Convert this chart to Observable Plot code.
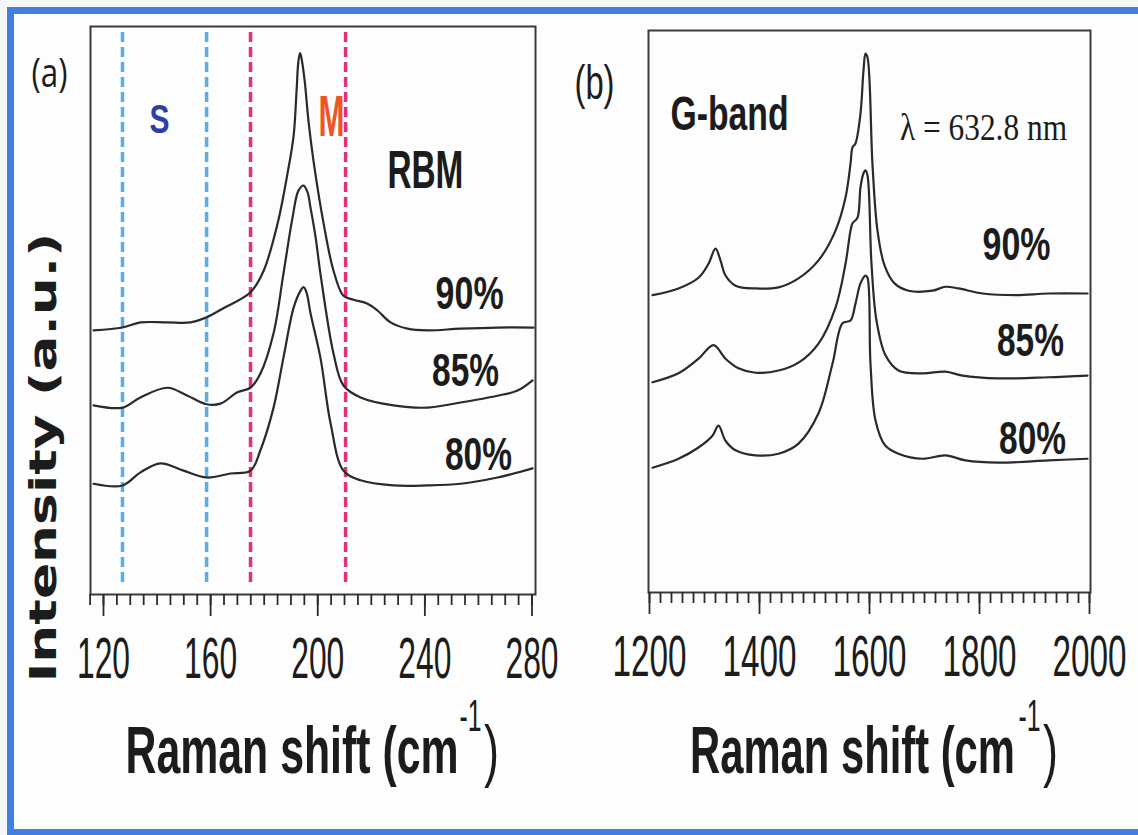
<!DOCTYPE html>
<html>
<head>
<meta charset="utf-8">
<script src="https://cdn.jsdelivr.net/npm/d3@7"></script>
<script src="https://cdn.jsdelivr.net/npm/@observablehq/plot@0.6"></script>
<style>
  html, body { margin: 0; padding: 0; background: #f4f6f8; }
  #wrap { position: relative; width: 1138px; height: 835px; overflow: hidden; background: #f4f6f8; }
  #border { position: absolute; left: 7px; top: 7px; width: 1160px; height: 829px; box-sizing: border-box;
            border: 7px solid #3f80e0; background: #fdfdfd; }
  #pa { position: absolute; left: 0; top: 0; }
  #pb { position: absolute; left: 570px; top: 0; }
</style>
</head>
<body>
<div id="wrap">
  <div id="border"></div>
  <div id="pa"></div>
  <div id="pb"></div>
</div>
<script>
// ---------- Panel (a): RBM region ----------
const rbmX90 = [116.3,127.1,133.8,143.9,152.5,158.5,164.8,174.9,179.8,185.0,188.7,191.0,192.1,192.8,193.4,193.9,195.1,196.6,198.4,202.2,205.9,209.6,213.4,218.6,222.3,227.2,233.5,241.0,253.3,267.1,280.6];
const rbmY90 = [46.5,47.0,47.9,47.9,47.9,48.8,50.4,53.2,57.0,65.3,74.1,80.8,88.7,94.0,95.3,94.5,90.5,83.1,76.4,65.3,57.0,52.6,51.9,51.2,50.0,47.9,46.8,46.5,46.8,47.0,47.0];
const rbmX85 = [116.3,127.1,133.8,143.9,151.4,158.5,163.7,170.0,174.9,178.6,183.5,187.2,190.6,192.8,194.7,196.2,197.3,199.2,201.0,205.9,209.6,216.0,228.3,241.0,253.3,267.1,274.6,280.2];
const rbmY85 = [33.3,32.9,34.7,36.4,35.0,33.5,33.6,35.6,36.4,38.9,46.0,56.5,66.4,71.1,72.0,70.8,68.1,62.9,56.5,42.4,36.8,34.7,33.3,32.9,33.8,35.0,35.9,37.7];
const rbmX80 = [116.3,127.1,133.8,141.3,149.9,158.5,167.4,174.9,178.6,183.5,187.2,191.0,193.6,194.7,195.8,197.3,201.0,204.8,209.6,216.0,228.3,241.0,253.3,267.1,280.2];
const rbmY80 = [19.5,19.2,21.5,23.1,21.8,20.6,21.3,21.8,25.4,32.9,41.7,50.5,53.5,54.1,53.2,49.5,41.7,30.1,21.8,20.1,19.2,19.2,19.5,20.6,22.2];
const sLines = [127.1, 158.5];   // semiconducting region bounds
const mLines = [174.9, 210.4];   // metallic region bounds
const ticksA = [120, 160, 200, 240, 280];

// ---------- Panel (b): G-band region ----------
const gX90 = [1205.5,1252.7,1289.1,1307.3,1320.0,1329.1,1338.2,1356.4,1392.7,1434.5,1470.9,1507.3,1538.2,1556.4,1565.5,1569.1,1574.5,1583.6,1589.1,1592.7,1596.4,1605.5,1614.5,1627.3,1645.5,1670.9,1714.5,1738.2,1761.8,1805.5,1865.5,1925.5,1996.4];
const gY90 = [52.9,54.1,56.0,58.5,61.2,59.1,56.4,54.6,54.1,54.3,55.9,59.1,64.4,70.3,76.3,79.2,79.9,85.2,92.9,95.9,95.2,76.0,64.4,58.2,55.0,53.7,53.7,54.4,54.1,53.2,52.9,53.2,53.2];
const gX85 = [1205.5,1252.7,1289.1,1316.4,1338.2,1361.8,1392.7,1434.5,1470.9,1507.3,1538.2,1556.4,1565.5,1569.1,1578.2,1583.6,1589.1,1592.7,1596.4,1603.6,1612.7,1629.1,1652.7,1696.4,1738.2,1769.1,1834.5,1925.5,1996.4];
const gY85 = [37.4,39.0,41.6,44.0,41.6,39.9,39.1,39.5,40.9,44.3,50.7,58.5,64.4,65.7,66.7,72.1,74.6,75.1,74.2,58.5,48.4,42.2,39.5,39.0,39.3,38.6,38.1,38.3,38.6];
const gX80 = [1205.5,1252.7,1289.1,1314.5,1325.5,1338.2,1356.4,1392.7,1434.5,1470.9,1507.3,1532.7,1550.9,1565.5,1574.5,1583.6,1592.7,1596.4,1601.8,1610.9,1628.2,1652.7,1696.4,1738.2,1774.5,1834.5,1925.5,1996.4];
const gY80 = [22.2,23.8,25.8,27.9,29.7,27.0,25.3,24.4,24.7,26.5,31.9,40.7,47.9,48.4,51.4,55.0,56.4,56.0,40.7,30.6,26.2,24.7,23.8,24.4,23.5,23.1,23.5,23.8];
const ticksB = [1200, 1400, 1600, 1800, 2000];

const seriesLabels = ["90%", "85%", "80%"];

function rows(xs, ys, s) { return xs.map((x, i) => ({x, y: ys[i], s})); }
const dataA = [...rows(rbmX90, rbmY90, "90%"), ...rows(rbmX85, rbmY85, "85%"), ...rows(rbmX80, rbmY80, "80%")];
const dataB = [...rows(gX90, gY90, "90%"), ...rows(gX85, gY85, "85%"), ...rows(gX80, gY80, "80%")];

const SANS = "Liberation Sans, Arial, sans-serif";
const INK = "#1c1c1c";

// target text widths (the source figure is stretched vertically, so glyphs are condensed)
const commonWidths = {
  "S": 20, "M": 26, "RBM": 76, "90%": 68, "85%": 67, "80%": 67,
  "(a)": 36, "(b)": 40, "G-band": 118, "λ = 632.8 nm": 167,
  "-1": 22, ")": 15, "Intensity (a.u.)": 450
};
ticksA.forEach(t => commonWidths[String(t)] = 53);
ticksB.forEach(t => commonWidths[String(t)] = 74);

function fitTexts(svg, widths) {
  d3.select(svg).selectAll("text").each(function() {
    const w = widths[this.textContent];
    if (w == null) return;
    d3.select(this).attr("textLength", w).attr("lengthAdjust", "spacingAndGlyphs");
  });
}

function label(text, opts) {
  return Plot.text([text], {text: d => d, fontFamily: SANS, fill: INK, lineAnchor: "middle", textAnchor: "middle", ...opts});
}

function axisTitle(dxT, dxS, dxP, dyShift) {
  return [
    label("Raman shift (cm", {frameAnchor: "bottom", dx: dxT, dy: 157 + dyShift, fontSize: 66, fontWeight: "bold"}),
    label("-1", {frameAnchor: "bottom", dx: dxS, dy: 122 + dyShift, fontSize: 45}),
    label(")", {frameAnchor: "bottom", dx: dxP, dy: 158 + dyShift, fontSize: 68})
  ];
}

function xAxes(major, minor) {
  return [
    Plot.axisX(minor, {tickSize: 11, tickFormat: () => "", stroke: "#2a2a2a", strokeWidth: 1.8, label: null}),
    Plot.axisX(major, {tickSize: 22, tickPadding: 21, tickFormat: d => String(d), stroke: "#2a2a2a", strokeWidth: 1.8,
      label: null, fontSize: 57, fontFamily: SANS, fill: INK})
  ];
}

const plotA = Plot.plot({
  width: 570, height: 835,
  marginTop: 26, marginLeft: 90, marginRight: 35, marginBottom: 241,
  style: {background: "transparent", overflow: "visible"},
  x: {domain: [115.15, 281.31]},
  y: {domain: [0, 100], axis: null},
  marks: [
    label("S", {x: () => 140.9, y: () => 83.5, fontSize: 41, fontWeight: "bold", fill: "#2c3fa6"}),
    label("M", {x: () => 205.1, y: () => 84.0, fontSize: 57, fontWeight: "bold", fill: "#ef5424"}),
    Plot.ruleX(sLines, {y1: 2.1, y2: 99.4, stroke: "#5aaee6", strokeWidth: 3.5, strokeDasharray: "10,5"}),
    Plot.ruleX(mLines, {y1: 2.1, y2: 99.4, stroke: "#e2307c", strokeWidth: 3.5, strokeDasharray: "10,5"}),
    Plot.line(dataA, {x: "x", y: "y", z: "s", curve: "catmull-rom", stroke: "#2a2a2a", strokeWidth: 2.2}),
    Plot.frame({stroke: "#3a3a3a", strokeWidth: 2}),
    ...xAxes(ticksA, d3.range(115, 282, 5)),
    label("RBM", {x: () => 240.2, y: () => 74.5, fontSize: 53, fontWeight: "bold"}),
    label(seriesLabels[0], {x: () => 256.7, y: () => 53.0, fontSize: 47, fontWeight: "bold"}),
    label(seriesLabels[1], {x: () => 255.2, y: () => 39.3, fontSize: 47, fontWeight: "bold"}),
    label(seriesLabels[2], {x: () => 260.0, y: () => 24.5, fontSize: 47, fontWeight: "bold"}),
    label("(a)", {frameAnchor: "top-left", dx: -41, dy: 48, fontSize: 40, fontFamily: "Open Sans, sans-serif"}),
    label("Intensity (a.u.)", {frameAnchor: "left", rotate: -90, dx: -47, dy: 147, fontSize: 38,
      fontWeight: "bold", fontFamily: "DejaVu Sans, sans-serif"}),
    ...axisTitle(-21, 157.5, 178.5, 0)
  ]
});

const plotB = Plot.plot({
  width: 568, height: 835,
  marginTop: 30, marginLeft: 78, marginRight: 48, marginBottom: 243,
  style: {background: "transparent", overflow: "visible"},
  x: {domain: [1198.2, 2001.8]},
  y: {domain: [0, 100], axis: null},
  marks: [
    Plot.line(dataB, {x: "x", y: "y", z: "s", curve: "catmull-rom", stroke: "#2a2a2a", strokeWidth: 2.2}),
    Plot.frame({stroke: "#3a3a3a", strokeWidth: 2}),
    ...xAxes(ticksB, d3.range(1200, 2001, 20)),
    label("(b)", {frameAnchor: "top-left", dx: -54, dy: 53, fontSize: 48}),
    label("G-band", {x: () => 1345.5, y: () => 85.1, fontSize: 49, fontWeight: "bold"}),
    label("λ = 632.8 nm", {x: () => 1807.3, y: () => 82.7, fontSize: 38, fontFamily: "Liberation Serif, Times New Roman, serif"}),
    label(seriesLabels[0], {x: () => 1867.3, y: () => 61.9, fontSize: 47, fontWeight: "bold"}),
    label(seriesLabels[1], {x: () => 1892.7, y: () => 44.7, fontSize: 47, fontWeight: "bold"}),
    label(seriesLabels[2], {x: () => 1896.4, y: () => 27.4, fontSize: 47, fontWeight: "bold"}),
    ...axisTitle(-17, 160, 181, 2)
  ]
});

d3.selectAll([plotA, plotB]).selectAll('g[aria-label="x-axis tick label"]')
  .attr("font-size", 57).attr("font-family", SANS).attr("fill", INK);
fitTexts(plotA, {...commonWidths, "Raman shift (cm": 333});
fitTexts(plotB, {...commonWidths, "Raman shift (cm": 325});
document.getElementById("pa").appendChild(plotA);
document.getElementById("pb").appendChild(plotB);
</script>
</body>
</html>
